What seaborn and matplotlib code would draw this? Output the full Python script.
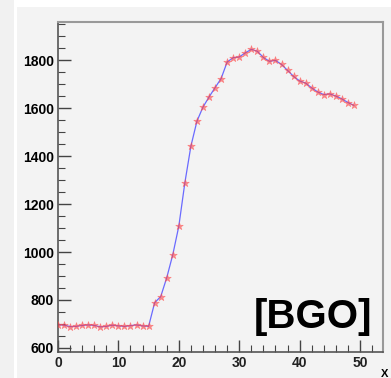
import matplotlib
matplotlib.use("Agg")
import matplotlib.pyplot as plt
import seaborn as sns
import pandas as pd
from matplotlib.ticker import MultipleLocator
from matplotlib.patches import Rectangle

channels = list(range(50))
counts = [697, 695, 689, 690, 694, 696, 694, 688, 690, 695,
          692, 690, 693, 696, 692, 690, 789, 814, 893, 989,
          1108, 1289, 1442, 1546, 1605, 1647, 1686, 1724, 1793, 1811,
          1814, 1831, 1846, 1838, 1812, 1796, 1800, 1783, 1758, 1733,
          1714, 1705, 1685, 1668, 1657, 1660, 1651, 1639, 1624, 1612]
x_ticks = [0, 10, 20, 30, 40, 50]
y_ticks = [600, 800, 1000, 1200, 1400, 1600, 1800]
label = "[BGO]"

df = pd.DataFrame({"x": channels, "y": counts})

sns.set_style("white")
plt.rcParams["font.family"] = ["Liberation Sans", "DejaVu Sans"]

W, H = 391, 378
fig = plt.figure(figsize=(W / 100, H / 100), dpi=100)
fig.patch.set_facecolor("#f3f3f3")
# screenshot borders
fig.patches.append(Rectangle((0, 0), 14 / W, 1, transform=fig.transFigure,
                             facecolor="#f1f1f1", edgecolor="none", zorder=0))
fig.patches.append(Rectangle((14 / W, 0), 3 / W, 1, transform=fig.transFigure,
                             facecolor="white", edgecolor="none", zorder=0))
fig.patches.append(Rectangle((14 / W, 1 - 7 / H), 1, 7 / H, transform=fig.transFigure,
                             facecolor="white", edgecolor="none", zorder=0))

ax = fig.add_axes([58 / W, 1 - 352 / H, (383 - 58) / W, (352 - 22) / H])
ax.set_facecolor("#f3f3f3")

sns.lineplot(data=df, x="x", y="y", ax=ax, color="#6a6aff", lw=0.9, zorder=2)
sns.scatterplot(data=df, x="x", y="y", ax=ax, marker="*", s=32, color="#ff3a3a",
                alpha=0.55, edgecolor="#ff5050", linewidth=0.5, zorder=3)

ax.set_xlim(0, 53.8)
ax.set_ylim(583, 1960)
ax.set_xticks(x_ticks)
ax.set_yticks(y_ticks)
ax.xaxis.set_minor_locator(MultipleLocator(2))
ax.yaxis.set_minor_locator(MultipleLocator(50))
ax.set_xlabel("")
ax.set_ylabel("")

ax.tick_params(which="both", direction="in", bottom=True, left=True, top=False, right=False,
               colors="#444444", labelcolor="black")
ax.tick_params(which="major", length=9, width=1.0, labelsize=10, pad=3)
ax.tick_params(which="minor", length=5, width=0.8)
for t in ax.get_yticklabels() + ax.get_xticklabels():
    t.set_fontweight("bold")
for t in ax.get_xticklabels():
    t.set_color("#222222")

for s in ["left", "bottom"]:
    ax.spines[s].set_color("#555555")
    ax.spines[s].set_linewidth(1.2)
for s in ["top", "right"]:
    ax.spines[s].set_color("#999999")
    ax.spines[s].set_linewidth(1.5)

fig.text(372 / W, 1 - 328 / H, label, ha="right", va="baseline",
         fontsize=29, fontweight="bold", color="black")
fig.text(381 / W, 1 - 377 / H, "X", ha="left", va="baseline",
         fontsize=8, fontweight="bold", color="black")

fig.savefig("out.png", dpi=100, facecolor=fig.get_facecolor())
